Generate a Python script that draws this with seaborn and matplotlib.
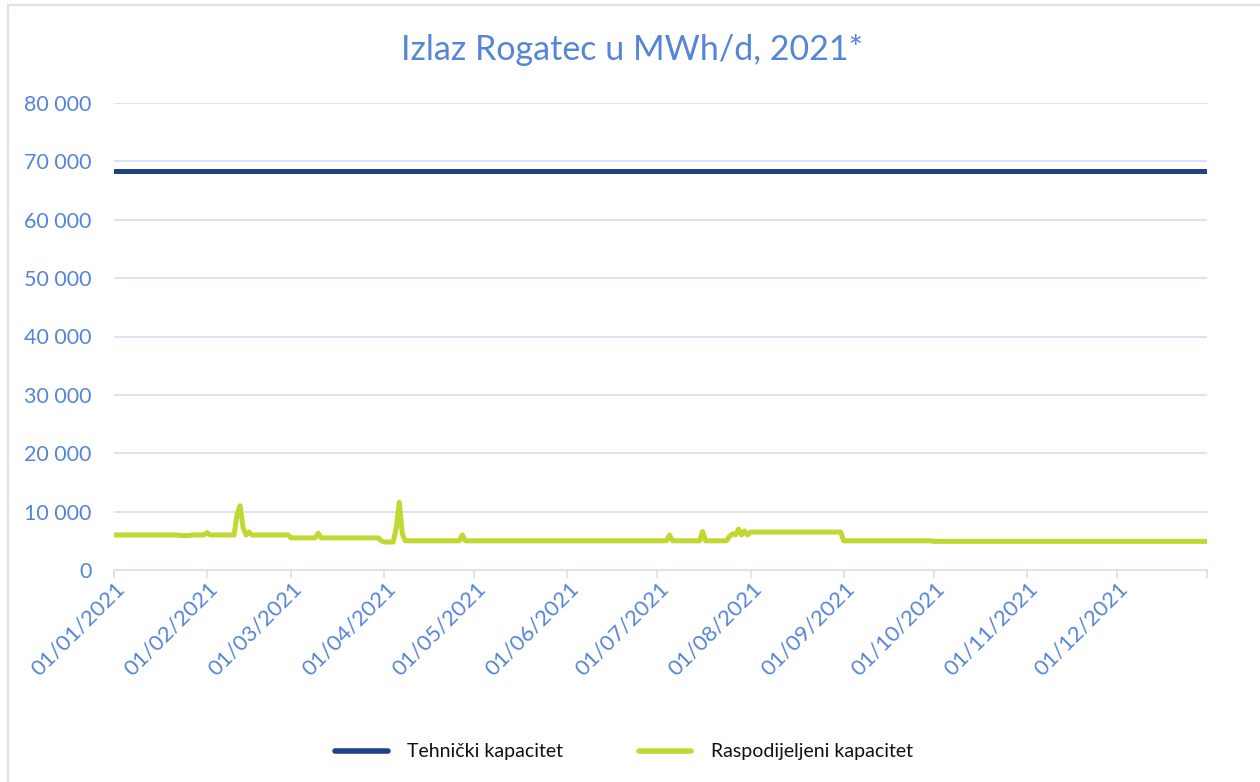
import matplotlib
matplotlib.use("Agg")
import matplotlib.pyplot as plt
import matplotlib.dates as mdates
from matplotlib.ticker import FuncFormatter, FixedLocator
from matplotlib.patches import Rectangle
from matplotlib.transforms import ScaledTranslation
import pandas as pd
import seaborn as sns

# ---- data ----
tech_dates = ["2021-01-01", "2021-12-31"]
tech_values = [68300, 68300]

alloc_dates = [
    "2021-01-01", "2021-01-22", "2021-01-23", "2021-01-26", "2021-01-27", "2021-01-31",
    "2021-02-01", "2021-02-02", "2021-02-10", "2021-02-11", "2021-02-12", "2021-02-13",
    "2021-02-14", "2021-02-15", "2021-02-16", "2021-02-28", "2021-03-01", "2021-03-09",
    "2021-03-10", "2021-03-11", "2021-03-30", "2021-03-31", "2021-04-01", "2021-04-04",
    "2021-04-05", "2021-04-06", "2021-04-07", "2021-04-08", "2021-04-26", "2021-04-27",
    "2021-04-28", "2021-07-04", "2021-07-05", "2021-07-06", "2021-07-15", "2021-07-16",
    "2021-07-17", "2021-07-24", "2021-07-25", "2021-07-26", "2021-07-27", "2021-07-28",
    "2021-07-29", "2021-07-30", "2021-07-31", "2021-08-01", "2021-08-31", "2021-09-01",
    "2021-09-30", "2021-10-01", "2021-12-31",
]
alloc_values = [
    6000, 6000, 5900, 5900, 6000, 6000,
    6400, 6000, 6000, 9600, 11000, 7200,
    6000, 6500, 6000, 6000, 5500, 5500,
    6300, 5500, 5500, 5000, 4800, 4800,
    7200, 11600, 6200, 5000, 5000, 6000,
    5000, 5000, 6000, 5000, 5000, 6600,
    5000, 5000, 5800, 6200, 6000, 7000,
    6000, 6700, 6000, 6500, 6500, 5000,
    5000, 4900, 4900,
]

series_names = ["Tehnički kapacitet", "Raspodijeljeni kapacitet"]
title_text = "Izlaz Rogatec u MWh/d, 2021*"
y_ticks = [0, 10000, 20000, 30000, 40000, 50000, 60000, 70000, 80000]
month_ticks = pd.date_range("2021-01-01", "2021-12-01", freq="MS")

# ---- style ----
sns.set_style("white")
plt.rcParams["font.family"] = ["Lato", "DejaVu Sans"]

C_BLUE = "#1F4383"
C_GREEN = "#C3D733"
C_TEXT = "#5585D6"
C_GRID = "#D9E2F3"

df_tech = pd.DataFrame({"date": pd.to_datetime(tech_dates), "value": tech_values, "series": series_names[0]})
df_alloc = pd.DataFrame({"date": pd.to_datetime(alloc_dates), "value": alloc_values, "series": series_names[1]})
df = pd.concat([df_tech, df_alloc], ignore_index=True)

fig = plt.figure(figsize=(12.6, 7.82), dpi=100)
ax = fig.add_axes([114 / 1260, 1 - 570 / 782, (1207 - 114) / 1260, (570 - 103) / 782])

sns.lineplot(data=df, x="date", y="value", hue="series",
             palette={series_names[0]: C_BLUE, series_names[1]: C_GREEN},
             linewidth=3.6, ax=ax, legend=False, zorder=3)
for l in ax.lines:
    l.set_solid_capstyle("round")
    l.set_solid_joinstyle("round")

ax.set_xlim(pd.Timestamp("2021-01-01"), pd.Timestamp("2021-12-31"))
ax.set_ylim(0, 80000)
ax.set_yticks(y_ticks)
ax.yaxis.set_major_formatter(FuncFormatter(lambda v, p: f"{int(v):,}".replace(",", " ")))
ax.set_xticks(mdates.date2num(month_ticks))
ax.xaxis.set_major_formatter(mdates.DateFormatter("%d/%m/%Y"))
ax.xaxis.set_minor_locator(FixedLocator([mdates.date2num(pd.Timestamp("2021-12-31"))]))

ax.set_xlabel("")
ax.set_ylabel("")
ax.grid(axis="y", color=C_GRID, linewidth=1.3, zorder=0)
ax.grid(axis="x", visible=False)
for s in ["top", "right", "left"]:
    ax.spines[s].set_visible(False)
ax.spines["bottom"].set_color(C_GRID)
ax.spines["bottom"].set_linewidth(1.3)

ax.tick_params(axis="y", length=0, pad=16, labelsize=15.5, labelcolor=C_TEXT)
ax.tick_params(axis="x", which="both", direction="out", length=6, width=1.3, color=C_GRID,
               labelsize=16, labelcolor=C_TEXT, pad=0, bottom=True)
shift = ScaledTranslation(1 / 100, 0, fig.dpi_scale_trans)
for lab in ax.get_xticklabels():
    lab.set_rotation(45)
    lab.set_ha("right")
    lab.set_rotation_mode("anchor")
    lab.set_transform(lab.get_transform() + shift)

fig.text(632 / 1260, 1 - 50 / 782, title_text, ha="center", va="center",
         fontsize=24.5, color=C_TEXT)

# legend
handles = [plt.Line2D([], [], color=C_BLUE, linewidth=4, solid_capstyle="round"),
           plt.Line2D([], [], color=C_GREEN, linewidth=4, solid_capstyle="round")]
leg = fig.legend(handles, series_names, loc="center", bbox_to_anchor=(624 / 1260, 1 - 752 / 782),
                 ncol=2, frameon=False, fontsize=14, handlelength=2.7, handletextpad=1.0,
                 columnspacing=3.9)
for t in leg.get_texts():
    t.set_color("#111111")

# outer chart border (left and top visible)
fig.patches.append(Rectangle((8 / 1260, -0.1), 1.2, 1 - 5 / 782 + 0.1, transform=fig.transFigure,
                             fill=False, edgecolor=C_GRID, linewidth=1.5, zorder=-1))

fig.savefig("out.png", dpi=100)
